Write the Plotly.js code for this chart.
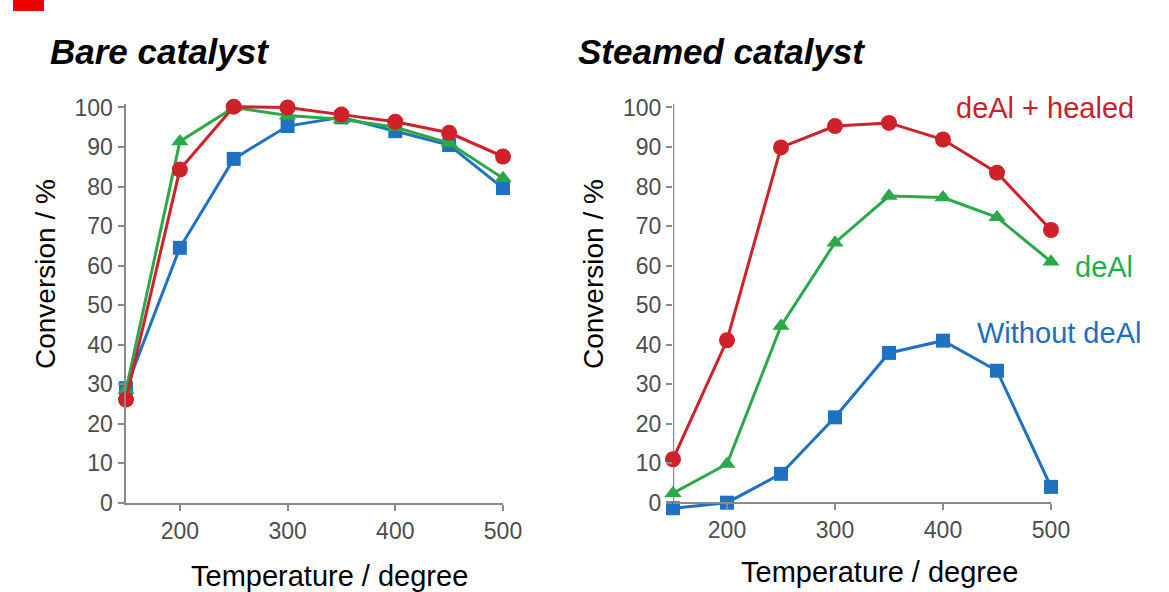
<!DOCTYPE html>
<html><head><meta charset="utf-8">
<script src="https://cdn.plot.ly/plotly-3.0.1.min.js"></script>
<style>html,body{margin:0;padding:0;background:#fff}#chart{width:1169px;height:592px}</style>
</head><body><div id="chart"></div>
<script>
// ---- data ----
const temperatures = [150, 200, 250, 300, 350, 400, 450, 500];
const bareWithoutDeAl = [29, 64.5, 87, 95.3, 97.5, 94, 90.5, 79.6];
const bareDeAl = [28.5, 91.4, 100, 98, 97, 95, 91, 82.1];
const bareDeAlHealed = [26.1, 84.3, 100.2, 100, 98.2, 96.4, 93.6, 87.6];
const steamedWithoutDeAl = [-1.4, 0, 7.3, 21.6, 37.9, 41, 33.4, 4];
const steamedDeAl = [2.4, 9.8, 44.7, 65.8, 77.6, 77.2, 72.2, 61];
const steamedDeAlHealed = [11, 41.1, 89.9, 95.3, 96.1, 91.9, 83.5, 69];
const yTickValues = [0, 10, 20, 30, 40, 50, 60, 70, 80, 90, 100];
const xTickValues = [200, 300, 400, 500];
const panelTitles = ['Bare catalyst', 'Steamed catalyst'];
const seriesNames = ['Without deAl', 'deAl', 'deAl + healed'];
const xTitle = 'Temperature / degree';
const yTitle = 'Conversion / %';

// ---- styles ----
const W = 1169, H = 592;
const px = v => v / W, py = v => 1 - v / H;
const FONT = 'Liberation Sans, Arial, Helvetica, sans-serif';
const lineColors = ['#1f72c2', '#2aa948', '#cf2129'];
const labelColors = ['#1b6fc0', '#17b04e', '#c9202a'];
const symbols = ['square', 'triangle-up', 'circle'];
const sizes = [14, 15, 16];
const AXC = '#8a8a8a';

function trace(y, i, xa, ya) {
  return {
    x: temperatures, y: y, xaxis: xa, yaxis: ya, name: seriesNames[i],
    type: 'scatter', mode: 'lines+markers', cliponaxis: false,
    line: {color: lineColors[i], width: 3},
    marker: {symbol: symbols[i], size: sizes[i], color: lineColors[i]}
  };
}
const data = [
  trace(bareWithoutDeAl, 0, 'x', 'y'),
  trace(bareDeAl, 1, 'x', 'y'),
  trace(bareDeAlHealed, 2, 'x', 'y'),
  trace(steamedWithoutDeAl, 0, 'x2', 'y2'),
  trace(steamedDeAl, 1, 'x2', 'y2'),
  trace(steamedDeAlHealed, 2, 'x2', 'y2')
];

const axisCommon = {
  showline: true, linecolor: AXC, linewidth: 2.5,
  ticks: 'outside', ticklen: 6, tickwidth: 2, tickcolor: AXC,
  showgrid: false, zeroline: false,
  tickfont: {family: FONT, size: 23, color: '#4d4d4d'}
};
const ZERO = 502.7, PPU = 3.952;   // pixel of y=0 and pixels per unit
const yDomain = [py(ZERO), py(ZERO - 101 * PPU)];
const yDomain2 = [py(ZERO + 2 * PPU), py(ZERO - 101 * PPU)];
const layout = {
  width: W, height: H, showlegend: false,
  margin: {l: 0, r: 0, t: 0, b: 0},
  paper_bgcolor: '#fff', plot_bgcolor: '#fff',
  xaxis: Object.assign({}, axisCommon, {domain: [px(126), px(503)], range: [150, 500], tickvals: xTickValues, anchor: 'y'}),
  yaxis: Object.assign({}, axisCommon, {domain: yDomain, range: [0, 101], tickvals: yTickValues, anchor: 'x'}),
  xaxis2: Object.assign({}, axisCommon, {domain: [px(673), px(1051)], range: [150, 500], tickvals: xTickValues, anchor: 'free', position: py(ZERO)}),
  yaxis2: Object.assign({}, axisCommon, {domain: yDomain2, range: [-2, 101], tickvals: yTickValues, anchor: 'x2', showline: false}),
  shapes: [
    {type: 'rect', xref: 'paper', yref: 'paper', x0: px(13), x1: px(44), y0: py(11), y1: py(0), fillcolor: '#ee0000', line: {width: 0}},
    {type: 'line', xref: 'x2', yref: 'y2', x0: 150, x1: 150, y0: 0, y1: 101, line: {color: AXC, width: 2.5}, layer: 'below'}
  ],
  annotations: [
    {text: '<b><i>' + panelTitles[0] + '</i></b>', x: px(48), y: py(51), xanchor: 'left', yanchor: 'middle', font: {family: FONT, size: 35, color: '#000'}},
    {text: '<b><i>' + panelTitles[1] + '</i></b>', x: px(576), y: py(51), xanchor: 'left', yanchor: 'middle', font: {family: FONT, size: 35, color: '#000'}},
    {text: yTitle, x: px(45), y: py(274), textangle: -90, xanchor: 'center', yanchor: 'middle', font: {family: FONT, size: 28, color: '#000'}},
    {text: yTitle, x: px(593), y: py(274), textangle: -90, xanchor: 'center', yanchor: 'middle', font: {family: FONT, size: 28, color: '#000'}},
    {text: xTitle, x: px(330), y: py(576), xanchor: 'center', yanchor: 'middle', font: {family: FONT, size: 29, color: '#000'}},
    {text: xTitle, x: px(879), y: py(572), xanchor: 'center', yanchor: 'middle', font: {family: FONT, size: 29, color: '#000'}},
    {text: seriesNames[2], x: px(954), y: py(108), xanchor: 'left', yanchor: 'middle', font: {family: FONT, size: 29, color: labelColors[2]}},
    {text: seriesNames[1], x: px(1073), y: py(267), xanchor: 'left', yanchor: 'middle', font: {family: FONT, size: 29, color: labelColors[1]}},
    {text: seriesNames[0], x: px(975), y: py(333), xanchor: 'left', yanchor: 'middle', font: {family: FONT, size: 29, color: labelColors[0]}}
  ].map(a => Object.assign({xref: 'paper', yref: 'paper', showarrow: false}, a))
};
Plotly.newPlot('chart', data, layout, {displayModeBar: false, staticPlot: true});
</script>
</body></html>
